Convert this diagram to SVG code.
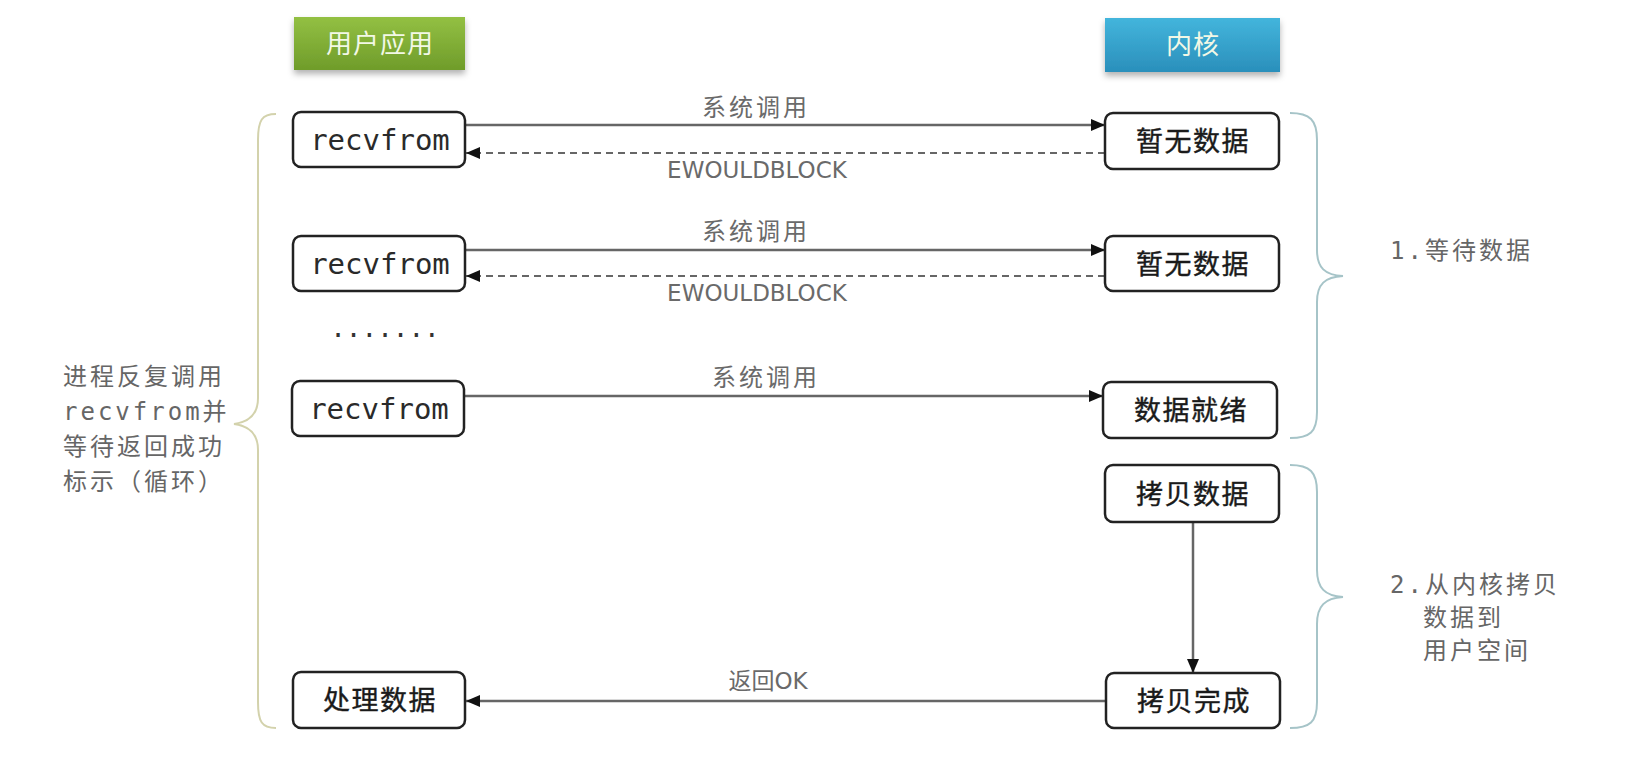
<svg xmlns="http://www.w3.org/2000/svg" width="1652" height="764" viewBox="0 0 1652 764">
<defs>
  <linearGradient id="gGreen" x1="0" y1="0" x2="0" y2="1">
    <stop offset="0" stop-color="#93c043"/>
    <stop offset="1" stop-color="#6f9c2a"/>
  </linearGradient>
  <linearGradient id="gBlue" x1="0" y1="0" x2="0" y2="1">
    <stop offset="0" stop-color="#43b5dc"/>
    <stop offset="1" stop-color="#2a8fbb"/>
  </linearGradient>
  <filter id="shadow" x="-10%" y="-20%" width="120%" height="160%">
    <feDropShadow dx="0" dy="4" stdDeviation="3" flood-color="#000" flood-opacity="0.3"/>
  </filter>
  <marker id="arrow" viewBox="0 0 14 12" refX="14" refY="6" markerWidth="14" markerHeight="12" markerUnits="userSpaceOnUse" orient="auto">
    <path d="M0,0 L14,6 L0,12 z" fill="#111"/>
  </marker>
  <style>
    .box { fill: #ffffff; stroke: #222; stroke-width: 2.5; }
    .btxt { font-family: "Noto Sans CJK SC", sans-serif; font-size: 27px; letter-spacing: 1.5px; fill: #1a1a1a; stroke: #1a1a1a; stroke-width: 0.4; text-anchor: middle; }
    .mono { font-family: "DejaVu Sans Mono", "Noto Sans CJK SC", monospace; font-size: 29px; fill: #2a2a2a; text-anchor: middle; }
    .hdr { font-family: "Noto Sans CJK SC", sans-serif; font-size: 26px; letter-spacing: 1px; fill: #f2f8e6; text-anchor: middle; }
    .lbl { font-family: "DejaVu Sans", "Noto Sans CJK SC", sans-serif; font-size: 23px; fill: #6a6a6a; text-anchor: middle; }
    .lblc { font-family: "Noto Sans CJK SC", sans-serif; font-size: 24px; letter-spacing: 3px; fill: #6a6a6a; text-anchor: middle; }
    .side { font-family: "DejaVu Sans Mono", "Noto Sans CJK SC", monospace; font-size: 24px; letter-spacing: 3px; fill: #666; }
    .solid { stroke: #666; stroke-width: 2.5; fill: none; }
    .dash { stroke: #666; stroke-width: 2; fill: none; stroke-dasharray: 7 5; }
    .braceL { stroke: #d3d2ac; stroke-width: 2; fill: none; }
    .braceR { stroke: #a6c4c8; stroke-width: 2; fill: none; }
  </style>
</defs>
<rect x="0" y="0" width="1652" height="764" fill="#ffffff"/>

<g id="hdr-user">
  <rect x="294" y="17" width="171" height="53" fill="url(#gGreen)" filter="url(#shadow)"/>
  <text class="hdr" x="380" y="53">用户应用</text>
</g>
<g id="hdr-kernel">
  <rect x="1105" y="18" width="175" height="54" fill="url(#gBlue)" filter="url(#shadow)"/>
  <text class="hdr" x="1193" y="54">内核</text>
</g>

<g id="connectors">
  <line class="solid" x1="465" y1="125" x2="1105" y2="125" marker-end="url(#arrow)"/>
  <line class="dash" x1="1105" y1="153" x2="466" y2="153" marker-end="url(#arrow)"/>
  <line class="solid" x1="465" y1="250" x2="1105" y2="250" marker-end="url(#arrow)"/>
  <line class="dash" x1="1105" y1="276" x2="466" y2="276" marker-end="url(#arrow)"/>
  <line class="solid" x1="464" y1="396" x2="1103" y2="396" marker-end="url(#arrow)"/>
  <line class="solid" x1="1193" y1="522" x2="1193" y2="673" marker-end="url(#arrow)"/>
  <line class="solid" x1="1106" y1="701" x2="466" y2="701" marker-end="url(#arrow)"/>
  <text class="lblc" x="756" y="116">系统调用</text>
  <text class="lbl" x="757" y="178">EWOULDBLOCK</text>
  <text class="lblc" x="756" y="240">系统调用</text>
  <text class="lbl" x="757" y="301">EWOULDBLOCK</text>
  <text class="lblc" x="766" y="386">系统调用</text>
  <text class="lbl" x="768" y="689">返回OK</text>
</g>

<g id="n-recv1">
  <rect class="box" x="293" y="112" width="172" height="55" rx="8"/>
  <text class="mono" x="380" y="150">recvfrom</text>
</g>
<g id="n-nodata1">
  <rect class="box" x="1105" y="113" width="174" height="56" rx="8"/>
  <text class="btxt" x="1193" y="151">暂无数据</text>
</g>
<g id="n-recv2">
  <rect class="box" x="293" y="236" width="172" height="55" rx="8"/>
  <text class="mono" x="380" y="274">recvfrom</text>
</g>
<g id="n-nodata2">
  <rect class="box" x="1105" y="236" width="174" height="55" rx="8"/>
  <text class="btxt" x="1193" y="274">暂无数据</text>
</g>
<g id="n-dots">
  <text class="mono" x="385" y="337" style="font-size:26px;fill:#333">.......</text>
</g>
<g id="n-recv3">
  <rect class="box" x="292" y="381" width="172" height="55" rx="8"/>
  <text class="mono" x="379" y="419">recvfrom</text>
</g>
<g id="n-ready">
  <rect class="box" x="1103" y="382" width="174" height="56" rx="8"/>
  <text class="btxt" x="1191" y="420">数据就绪</text>
</g>
<g id="n-copy">
  <rect class="box" x="1105" y="465" width="174" height="57" rx="8"/>
  <text class="btxt" x="1193" y="504">拷贝数据</text>
</g>
<g id="n-copydone">
  <rect class="box" x="1106" y="673" width="174" height="55" rx="8"/>
  <text class="btxt" x="1194" y="711">拷贝完成</text>
</g>
<g id="n-process">
  <rect class="box" x="293" y="672" width="172" height="56" rx="8"/>
  <text class="btxt" x="380" y="710">处理数据</text>
</g>

<g id="brace-left">
  <path class="braceL" d="M276 114 C262 114 258 120 258 140 L258 398 C258 414 250 422 234 424 C250 426 258 434 258 450 L258 702 C258 722 262 728 276 728"/>
  <text class="side" x="63" y="385">进程反复调用</text>
  <text class="side" x="63" y="420">recvfrom并</text>
  <text class="side" x="63" y="455">等待返回成功</text>
  <text class="side" x="63" y="490">标示（循环）</text>
</g>
<g id="brace-wait">
  <path class="braceR" d="M1290 113 C1310 113 1317 120 1317 140 L1317 250 C1317 268 1325 275 1343 276 C1325 277 1317 284 1317 302 L1317 412 C1317 432 1310 438 1290 438"/>
  <text class="side" x="1390" y="259">1.等待数据</text>
</g>
<g id="brace-copy">
  <path class="braceR" d="M1290 465 C1310 465 1317 472 1317 492 L1317 570 C1317 588 1325 596 1343 597 C1325 598 1317 606 1317 624 L1317 702 C1317 722 1310 728 1290 728"/>
  <text class="side" x="1390" y="593">2.从内核拷贝</text>
  <text class="side" x="1423" y="626">数据到</text>
  <text class="side" x="1423" y="659">用户空间</text>
</g>
</svg>
